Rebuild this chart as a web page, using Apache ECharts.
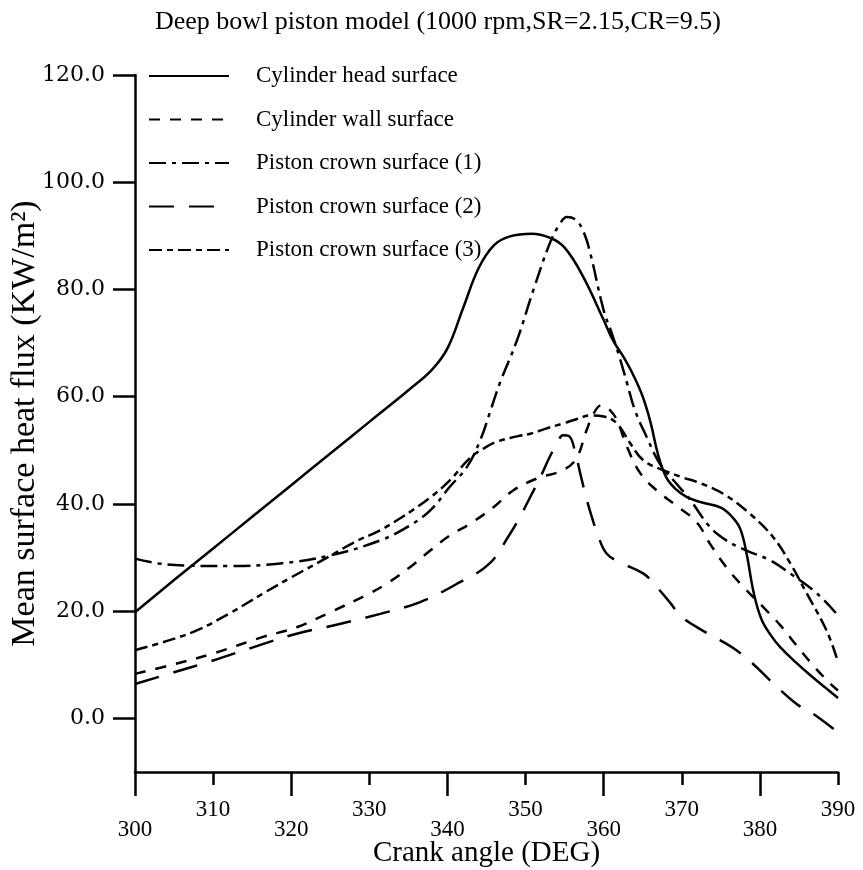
<!DOCTYPE html>
<html>
<head>
<meta charset="utf-8">
<script src="https://cdn.jsdelivr.net/npm/echarts@6/dist/echarts.min.js"></script>
<style>html,body{margin:0;padding:0;background:#fff}#c{width:863px;height:870px}</style>
</head>
<body>
<div id="c"></div>
<script>
// ---- data ----
const titleText = 'Deep bowl piston model (1000 rpm,SR=2.15,CR=9.5)';
const xName = 'Crank angle (DEG)';
const yName = 'Mean surface heat flux (KW/m²)';
const seriesNames = ['Cylinder head surface', 'Cylinder wall surface', 'Piston crown surface (1)', 'Piston crown surface (2)', 'Piston crown surface (3)'];
const xTicksUpper = [310, 330, 350, 370, 390];
const xTicksLower = [300, 320, 340, 360, 380];
const yTicks = [0, 20, 40, 60, 80, 100, 120];

const headX = [300,305,310,315,320,325,330,335,338,340,342,344,346,348,350.8,353,355,357.4,360,361.2,362.5,363.8,365,366,367,368,369.2,370.6,372.5,375,376.5,377.5,378.3,379.2,380.2,381.5,382.6,384.5,386.5,388.5,390];
const headY = [19.8,25.8,31.7,37.6,43.5,49.4,55.3,61.2,65.0,69.0,76.5,84,88.3,89.9,90.4,89.7,87.8,82.3,74.3,70.5,67.5,64,60,55.2,49,45,42.8,41.3,40.3,39.3,37.5,35.3,30.7,23.5,18.5,15.3,13.3,10.6,8,5.6,3.8];

const wallX = [300,305,310,316.4,320.7,325,330,332.2,335.2,337.8,340.3,342.9,345.9,348.4,351.4,354.8,356.5,357.8,358.7,359.7,360.8,361.7,363,364.7,366.8,369.3,371.9,373.6,375.7,377.9,380.4,382.6,384.7,386.8,389,390];
const wallY = [8.3,10.1,12.1,15.2,17,19.8,23.3,25.1,28.2,31.3,34.1,36.3,39.4,42.5,44.7,46.3,48.5,53.7,56.8,58.4,57.5,55.6,50.6,45.7,42.5,39.7,36.6,32.6,28.2,24.5,20.8,17.4,13.6,9.9,6.5,5.2];

const crown1X = [300,303,306.6,312,318.6,325,331.4,335,337.8,340.3,342.5,344.2,345.4,346.7,348.9,351,353.1,354.3,355.3,356.5,357.5,358.3,360,361,362,363,364,365.5,367.2,369.3,371.1,373.6,375.7,378.3,381.3,383.9,387.3,390];
const crown1Y = [29.8,28.9,28.5,28.4,28.9,30.4,33.2,35.8,38.8,43.2,46.9,51.9,56.9,62.5,70.5,79.9,88.6,92,93.5,92.9,90.5,86.7,76.1,72,67.5,62.5,57.5,52.5,47.5,43.8,40.7,35.7,33.2,31.3,29.5,27,23.3,19.2];

const crown2X = [300,305,310,315,320.7,326.2,331.4,336.5,341.6,345.4,348,349.3,350.6,351.9,353.1,354,354.8,355.6,356.3,357,357.8,358.5,359.3,360.4,362.1,365.1,366.8,368.6,369.8,372.3,374.9,377,379.1,381.3,384.7,386.8,390];
const crown2Y = [6.4,8.6,10.8,13.2,15.8,17.6,19.5,21.7,25.4,28.9,34.4,37.6,41.3,45,48.8,51.2,52.8,52.6,50,45.7,41,37.5,34,30.7,29.1,27,24.5,21.4,19.2,16.7,14.6,12.7,10.2,7.1,2.7,0.9,-2.6];

const crown3X = [300,304,307.9,312,316.4,320,325,328,331.4,333.5,335.5,337.9,340.3,342.9,344.6,346.3,348.9,350.6,352.5,354.8,356.5,358.3,360,361.7,363.4,365.1,367.6,370,372.3,375.3,378.7,381.7,383.9,386,388.1,389.2,390];
const crown3Y = [12.7,14.4,16.4,19.5,23.3,26.3,30.3,32.8,35.1,36.9,38.8,41.3,44.4,48.6,50.3,51.6,52.6,53.1,54,55,55.8,56.5,56.3,55,51.3,48.1,46.3,45,43.9,41.9,38.2,33.8,28.9,23.3,17.7,14,10.5];

// ---- chart ----
const serif = 'Liberation Serif';
const pair = (xs, ys) => xs.map((x, i) => [x, ys[i]]);
const allX = [headX, wallX, crown1X, crown2X, crown3X];
const allY = [headY, wallY, crown1Y, crown2Y, crown3Y];
const dashes = ['solid', [11, 10], [17, 6, 4, 6], [25, 15], [13, 5, 6, 5]];

const chart = echarts.init(document.getElementById('c'), null, {renderer: 'canvas'});
chart.setOption({
  backgroundColor: '#fff',
  animation: false,
  title: {
    text: titleText, left: 150, top: 4,
    textStyle: {fontFamily: serif, fontSize: 26, fontWeight: 'normal', color: '#000'}
  },
  legend: {
    orient: 'vertical', left: 148, top: 64, padding: 0,
    itemWidth: 80, itemHeight: 14, itemGap: 19.5,
    data: seriesNames,
    itemStyle: {opacity: 0, color: 'rgba(0,0,0,0)', borderWidth: 0},
    textStyle: {fontFamily: serif, fontSize: 23, color: '#000', lineHeight: 24, padding: [0, 0, 0, 22]}
  },
  grid: {left: 135, right: 25, top: 75, bottom: 98, containLabel: false, outerBoundsMode: 'none'},
  xAxis: [{
    type: 'value', min: 300, max: 390, position: 'bottom',
    name: xName, nameLocation: 'middle', nameGap: 67, nameMoveOverlap: false,
    nameTextStyle: {fontFamily: serif, fontSize: 29, color: '#000'},
    axisLine: {show: true, onZero: false, lineStyle: {color: '#000', width: 2.5}},
    axisTick: {show: true, inside: false, length: 13, customValues: xTicksUpper, lineStyle: {color: '#000', width: 2.5}},
    axisLabel: {customValues: xTicksUpper, margin: 26, fontFamily: serif, fontSize: 23, color: '#000'},
    splitLine: {show: false}
  }, {
    type: 'value', min: 300, max: 390, position: 'bottom',
    axisLine: {show: false, onZero: false},
    axisTick: {show: true, inside: false, length: 24, customValues: xTicksLower, lineStyle: {color: '#000', width: 2.5}},
    axisLabel: {customValues: xTicksLower, margin: 46, fontFamily: serif, fontSize: 23, color: '#000'},
    splitLine: {show: false}
  }],
  yAxis: {
    type: 'value', min: -10, max: 120,
    name: yName, nameLocation: 'middle', nameGap: 93, nameRotate: 90, nameMoveOverlap: false,
    nameTextStyle: {fontFamily: serif, fontSize: 34, color: '#000'},
    axisLine: {show: true, onZero: false, lineStyle: {color: '#000', width: 2.5}},
    axisTick: {show: true, inside: false, length: 22, customValues: yTicks, lineStyle: {color: '#000', width: 2.5}},
    axisLabel: {customValues: yTicks, margin: 30, fontFamily: 'DejaVu Serif', fontSize: 22, color: '#000',
      formatter: v => Number(v).toFixed(1)},
    splitLine: {show: false}
  },
  series: seriesNames.map((n, i) => ({
    name: n, type: 'line', xAxisIndex: 0,
    data: pair(allX[i], allY[i]),
    symbol: 'none', showSymbol: false,
    smooth: 0.4,
    lineStyle: {color: '#000', width: 2.5, type: dashes[i]},
    itemStyle: {color: '#000'}
  }))
});
</script>
</body>
</html>
